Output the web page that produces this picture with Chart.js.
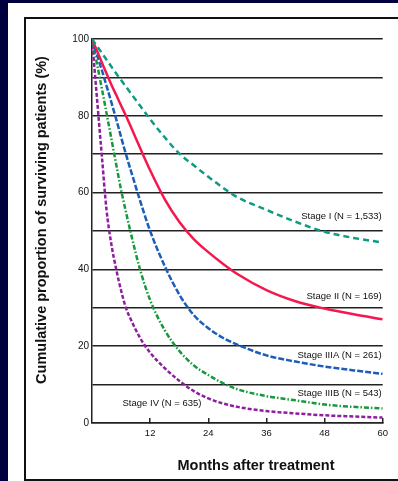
<!DOCTYPE html>
<html>
<head>
<meta charset="utf-8">
<script src="https://cdn.jsdelivr.net/npm/chart.js@4.4.1/dist/chart.umd.min.js"></script>
<style>
  html, body { margin: 0; padding: 0; }
  body { width: 398px; height: 481px; background: #00003e; overflow: hidden; position: relative; }
  #panel { position: absolute; left: 8px; top: 3px; width: 400px; height: 490px; background: #fff; }
  #frame { position: absolute; left: 24px; top: 17px; width: 400px; height: 460px; border: 2px solid #111; }
  #chart { position: absolute; left: 0; top: 0; }
</style>
</head>
<body>
<div id="panel"></div>
<div id="frame"></div>
<canvas id="chart" width="398" height="481"></canvas>
<script>
// months after treatment (shared x values for every curve)
const months = [0, 1, 2, 3, 4, 5, 6, 7, 8, 10, 12, 15, 18, 21, 24, 27, 30, 36, 42, 48, 54, 60];

// cumulative proportion surviving (%)
const stageI    = [100, 98.2, 96.4, 94.6, 92.8, 91, 89.3, 87.6, 85.9, 82.5, 79.1, 74.4, 70.2, 67.1, 64.1, 61.3, 58.8, 55.5, 52.4, 49.8, 48.2, 47];
const stageII   = [100, 97, 94, 91, 88.1, 85.4, 82.7, 80, 77.2, 71.4, 65.8, 58.3, 52.4, 47.9, 44.5, 41.5, 38.8, 34.6, 31.7, 29.8, 28.3, 27];
const stageIIIA = [100, 96, 92, 87.8, 83.5, 79.1, 74.5, 70, 65.8, 57.6, 50, 40.9, 33.5, 28.1, 24.7, 22.2, 20.4, 17.6, 16, 14.7, 13.7, 12.8];
const stageIIIB = [100, 93.7, 87.3, 80.7, 74, 67.3, 60.7, 55, 49.5, 39.6, 32, 24.2, 18.8, 15, 12.5, 10.4, 8.8, 7, 5.9, 4.8, 4.2, 3.8];
const stageIV   = [100, 85, 70, 55.5, 46.5, 40, 34.5, 30, 27, 22, 18.3, 14.3, 11, 8.3, 6.4, 5.1, 4.2, 3.1, 2.5, 2, 1.7, 1.4];

const stageNames = ['Stage I (N = 1,533)', 'Stage II (N = 169)', 'Stage IIIA (N = 261)', 'Stage IIIB (N = 543)', 'Stage IV (N = 635)'];

// tick labels
const xTickValues = [12, 24, 36, 48, 60];
const xTickLabels = ['12', '24', '36', '48', '60'];
const yTickLabels = ['0', '20', '40', '60', '80', '100'];

const xTitle = 'Months after treatment';
const yTitle = 'Cumulative proportion of surviving patients (%)';

Chart.defaults.font.family = '"Liberation Sans", Arial, sans-serif';
Chart.defaults.color = '#111';

const series = [stageI, stageII, stageIIIA, stageIIIB, stageIV];
const styles = [
  { color: '#0b9c82', dash: [6, 4] },
  { color: '#f4184f', dash: [] },
  { color: '#1b5db8', dash: [6, 2] },
  { color: '#149a3c', dash: [5, 2, 1.5, 2] },
  { color: '#8d1f9e', dash: [4, 2] }
];
// where each curve's name sits: [month, value, align]
const labelSpots = [[60, 53.7, 'right'], [60, 33.1, 'right'], [60, 17.7, 'right'], [60, 7.7, 'right'], [6.3, 5.1, 'left']];

const textPlugin = {
  id: 'texts',
  afterDraw(chart) {
    const { ctx, scales: { x, y } } = chart;
    ctx.save();
    ctx.fillStyle = '#111';
    ctx.textBaseline = 'middle';

    ctx.font = '9.5px "Liberation Sans", Arial, sans-serif';
    stageNames.forEach((name, i) => {
      const [m, v, align] = labelSpots[i];
      ctx.textAlign = align;
      ctx.fillText(name, x.getPixelForValue(m) - (align === 'right' ? 1 : 0), y.getPixelForValue(v));
    });

    ctx.font = 'bold 14.5px "Liberation Sans", Arial, sans-serif';
    ctx.textAlign = 'center';
    ctx.fillText(xTitle, 256, 466);
    ctx.translate(42, 220);
    ctx.rotate(-Math.PI / 2);
    ctx.fillText(yTitle, 0, 0);
    ctx.restore();
  }
};

new Chart(document.getElementById('chart'), {
  type: 'line',
  data: {
    datasets: series.map((vals, i) => ({
      label: stageNames[i],
      data: months.map((m, j) => ({ x: m, y: vals[j] })),
      borderColor: styles[i].color,
      borderDash: styles[i].dash,
      borderWidth: 2.5,
      pointRadius: 0,
      fill: false,
      cubicInterpolationMode: 'monotone'
    }))
  },
  options: {
    responsive: false,
    animation: false,
    layout: { padding: { left: 0, top: 39, right: 9, bottom: 0 } },
    plugins: { legend: { display: false }, tooltip: { enabled: false } },
    scales: {
      x: {
        type: 'linear',
        min: 0,
        max: 60,
        afterFit(s) { s.height = 58; },
        afterBuildTicks(s) { s.ticks = xTickValues.map(v => ({ value: v })); },
        ticks: {
          callback: v => xTickLabels[xTickValues.indexOf(v)],
          font: { size: 9.5 },
          padding: 10,
          maxRotation: 0,
          autoSkip: false
        },
        grid: { drawOnChartArea: false, tickLength: -5, color: '#222', lineWidth: 1.5 },
        border: { color: '#222', width: 1.5 }
      },
      y: {
        min: 0,
        max: 100,
        afterFit(s) { s.width = 92; },
        ticks: {
          stepSize: 10,
          callback: v => yTickLabels.includes(String(v)) ? String(v) : '',
          font: { size: 10 },
          padding: 3,
          autoSkip: false
        },
        grid: { color: '#222', lineWidth: 1.5, drawTicks: false },
        border: { color: '#222', width: 1.5 }
      }
    }
  },
  plugins: [textPlugin]
});
</script>
</body>
</html>
